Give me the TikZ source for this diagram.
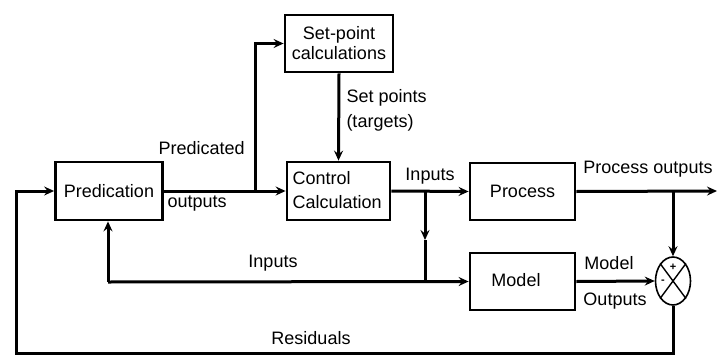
\documentclass[tikz,border=0pt]{standalone}
\usepackage{fontspec}
\setmainfont{Liberation Sans}
\usetikzlibrary{arrows.meta,shapes.geometric}

\begin{document}
\begin{tikzpicture}[x=1pt,y=-1pt,
  line width=3pt,
  font=\fontsize{18}{21}\selectfont,
  block/.style={draw,rectangle,line width=2.8pt,inner sep=0pt},
  lbl/.style={inner sep=0pt},
  arr/.style={-{Stealth[length=10pt,width=9pt,inset=3.5pt]}},
  summer/.style={draw,ellipse,line width=1.6pt,minimum width=35pt,minimum height=48pt,inner sep=0pt}
]
\useasboundingbox (0,0) rectangle (717,356);

% blocks
\node[block,minimum width=107pt,minimum height=58pt] (pred) at (109,191) {Predication};
\node[block,minimum width=108pt,minimum height=57pt,align=center] (setp) at (339,43.5)
  {Set-point\\[-1pt]calculations};
\node[block,minimum width=103pt,minimum height=58pt] (ctrl) at (338.5,191) {};
\node[lbl,anchor=west,align=left] (ctrltxt) at (291,190) {Control\\[3pt]Calculation};
\node[block,minimum width=105pt,minimum height=57pt] (proc) at (522.5,191.5) {Process};
\node[block,minimum width=105pt,minimum height=57pt] (model) at (522.5,281.5) {};
\node[lbl] (modeltxt) at (516,280) {Model};
\node[summer] (sum) at (673,281) {};

% cross inside the summing junction
\draw[line width=1.4pt] (sum.north west) -- (sum.south east);
\draw[line width=1.4pt] (sum.north east) -- (sum.south west);
\node[lbl,font=\fontsize{11}{11}\selectfont\bfseries] (plus) at (673,267) {+};
\node[lbl,font=\fontsize{11}{11}\selectfont\bfseries] (minus) at (663,282) {-};

% branch points and corners
\coordinate (b1) at (255,191);
\coordinate (b2) at (425,191);
\coordinate (m2) at (425,240);
\coordinate (j2) at (425,282);
\coordinate (j1) at (108,282);
\coordinate (b3) at (673,191);
\coordinate (out) at (717,191);
\coordinate (resR) at (673,353);
\coordinate (resL) at (16,353);

% connectors
\draw[arr] (pred.east) -- (ctrl.west);
\draw[arr] (b1) |- (setp.west);
\draw[arr] (setp.south) -- (ctrl.north);
\draw[arr] (ctrl.east) -- (proc.west);
\draw[arr] (proc.east) -- (out);
\draw[arr] (b3) -- (sum.north);
\draw[arr] (b2) -- (m2);
\draw (m2) -- (j2);
\draw[arr] (j1) -- (model.west);
\draw[arr] (j1) -- (j1 |- pred.south);
\draw[arr] (model.east) -- (sum.west);
\draw[arr] (sum.south) -- (resR) -- (resL) |- (pred.west);

% signal labels
\node[lbl,anchor=west] (lpred) at (157,148) {Predicated};
\node[lbl,anchor=north west] (lout) at (166,194) {outputs};
\node[lbl,anchor=west] (lsp) at (345,98) {Set points};
\node[lbl,anchor=west] (ltg) at (345,123) {(targets)};
\node[lbl] (lin1) at (430,176) {Inputs};
\node[lbl] (lpo) at (648,169) {Process outputs};
\node[lbl] (lmo) at (609,263) {Model};
\node[lbl] (lmo2) at (615,301) {Outputs};
\node[lbl] (lin2) at (273,263) {Inputs};
\node[lbl] (lres) at (311,338) {Residuals};
\end{tikzpicture}
\end{document}
